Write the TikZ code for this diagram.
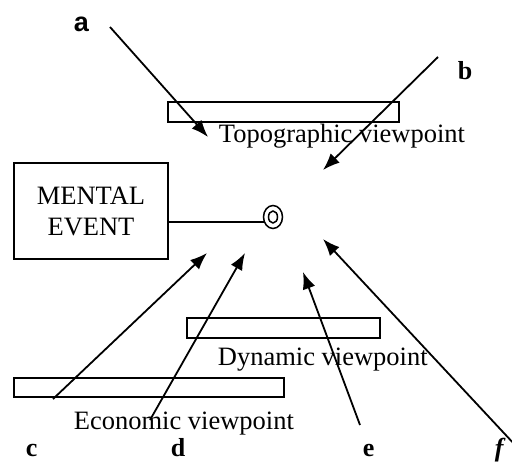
\documentclass[tikz,border=0pt]{standalone}
\usepackage{fontspec}
\setmainfont{Liberation Serif}
\newfontfamily\labsans{Liberation Sans}
\usetikzlibrary{arrows.meta}

\begin{document}
\begin{tikzpicture}[x=1pt,y=-1pt,line width=1.8pt,font=\fontsize{26.5}{31}\selectfont,
  bar/.style={draw,minimum height=19.5pt,inner sep=0pt},
  txt/.style={anchor=base west,inner sep=0pt},
  lab/.style={anchor=base west,inner sep=0pt,font=\fontsize{26}{26}\selectfont\bfseries},
  hit/.style={-{Latex[length=17pt,width=13pt]}}]
\useasboundingbox (0,0) rectangle (512,463);
% mental event and its eye
\node[draw,minimum width=154pt,minimum height=96pt,align=center] (mental) at (91,211) {MENTAL\\EVENT};
\coordinate (eye) at (273,217);
\draw[line width=1.5pt] (eye) ellipse [x radius=9.5,y radius=11.5] (eye) ellipse [x radius=4.5,y radius=6];
\coordinate (tap) at ([yshift=-11pt]mental.east);
\draw[line width=1.4pt] (tap) -- ([xshift=-8pt]eye |- tap);
% viewpoint bars
\node[bar,minimum width=231pt] (topo) at (283.5,112) {};
\node[bar,minimum width=193pt] (dyn) at (283.5,328) {};
\node[bar,minimum width=270pt] (econ) at (149,387.5) {};
\node[txt] (topotxt) at (218,142) {Topographic viewpoint};
\node[txt] (dyntxt) at (217,365) {Dynamic viewpoint};
\node[txt] (econtxt) at (73,429) {Economic viewpoint};
% letters
\node[lab,font=\fontsize{27}{27}\selectfont\labsans\bfseries] (la) at (73,31) {a};
\node[lab] (lb) at (457,79) {b};
\node[lab] (lc) at (25,456) {c};
\node[lab] (ld) at (170,456) {d};
\node[lab] (le) at (362,456) {e};
\node[lab] (lf) at (494,456) {\itshape f};
% arrows
\coordinate (a0) at (110,27);  \coordinate (a1) at (208,137);
\coordinate (b0) at (438,57);  \coordinate (b1) at (323,170);
\coordinate (c0) at (53,399);  \coordinate (c1) at (207,253);
\coordinate (d0) at (150,420); \coordinate (d1) at (245,253);
\coordinate (e0) at (360,425); \coordinate (e1) at (303,272);
\coordinate (f0) at (530,461); \coordinate (f1) at (323,239);
\foreach \v in {a,b,c,d,e,f}
  \draw[hit] (\v0) -- (\v1);
\end{tikzpicture}
\end{document}
